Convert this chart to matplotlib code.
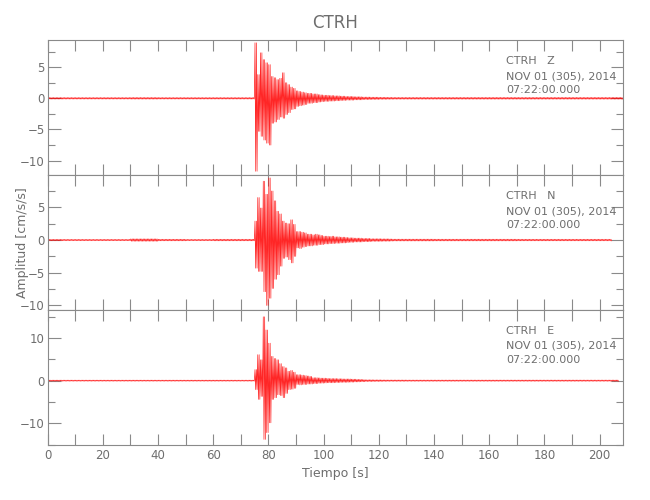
import numpy as np
from matplotlib import pyplot as plt
from matplotlib.ticker import MultipleLocator

# peak amplitudes [cm/s/s] per 1 s bin, starting at t = 75 s
EVENT_START = 75

z_upper = [8.9, 3.8, 7.3, 6.2, 5.7, 5.4, 3.5, 3.3, 3.0, 3.2,
           4.1, 2.5, 2.2, 1.8, 1.6, 1.2, 1.1, 1.0, 0.9, 0.8,
           0.8, 0.7, 0.7, 0.6, 0.55, 0.5, 0.5, 0.45, 0.45, 0.4,
           0.4, 0.35, 0.35, 0.3, 0.3, 0.3, 0.25, 0.25, 0.25, 0.2,
           0.2, 0.2, 0.18, 0.18, 0.18, 0.16, 0.16, 0.16, 0.15, 0.15]
z_lower = [-11.7, -5.3, -6.1, -6.7, -7.2, -7.5, -4.0, -3.8, -3.4, -3.0,
           -3.2, -2.6, -2.3, -1.8, -1.7, -1.3, -1.2, -1.1, -1.0, -0.8,
           -0.8, -0.7, -0.7, -0.6, -0.55, -0.5, -0.5, -0.45, -0.45, -0.4,
           -0.4, -0.35, -0.35, -0.3, -0.3, -0.3, -0.25, -0.25, -0.25, -0.2,
           -0.2, -0.2, -0.18, -0.18, -0.18, -0.16, -0.16, -0.16, -0.15, -0.15]

n_upper = [2.9, 6.5, 4.9, 9.0, 7.0, 9.5, 7.5, 6.0, 4.4, 4.0,
           2.9, 2.6, 2.5, 3.1, 2.4, 1.3, 1.3, 1.2, 1.1, 0.9,
           0.9, 0.8, 0.9, 0.8, 0.7, 0.6, 0.6, 0.55, 0.6, 0.5,
           0.5, 0.45, 0.45, 0.4, 0.35, 0.35, 0.3, 0.3, 0.3, 0.25,
           0.25, 0.25, 0.2, 0.2, 0.2, 0.2, 0.18, 0.18, 0.18, 0.16]
n_lower = [-4.3, -4.8, -4.8, -7.9, -10.0, -8.9, -7.4, -6.0, -5.3, -4.0,
           -2.8, -2.6, -3.0, -3.5, -2.5, -1.2, -1.3, -1.1, -1.0, -0.9,
           -0.9, -0.8, -0.8, -0.7, -0.7, -0.6, -0.6, -0.55, -0.55, -0.5,
           -0.5, -0.45, -0.45, -0.4, -0.35, -0.35, -0.3, -0.3, -0.3, -0.25,
           -0.25, -0.25, -0.2, -0.2, -0.2, -0.2, -0.18, -0.18, -0.18, -0.16]

e_upper = [2.6, 6.1, 4.9, 15.0, 11.9, 8.8, 5.7, 5.2, 4.9, 4.0,
           3.3, 3.0, 2.2, 2.4, 2.0, 1.4, 1.4, 1.3, 1.2, 1.1,
           1.0, 0.7, 0.7, 0.65, 0.6, 0.6, 0.55, 0.5, 0.5, 0.5,
           0.45, 0.45, 0.4, 0.4, 0.4, 0.35, 0.35, 0.3, 0.3, 0.25,
           0.2, 0.2, 0.2, 0.18, 0.18, 0.18, 0.16, 0.16, 0.15, 0.15]
e_lower = [-2.1, -4.4, -3.7, -13.8, -12.2, -9.9, -4.4, -4.0, -3.3, -3.5,
           -4.0, -3.0, -2.1, -2.0, -1.8, -0.9, -1.0, -0.9, -0.9, -0.8,
           -0.8, -0.7, -0.7, -0.6, -0.6, -0.55, -0.5, -0.5, -0.5, -0.45,
           -0.45, -0.4, -0.4, -0.4, -0.35, -0.35, -0.3, -0.3, -0.25, -0.25,
           -0.2, -0.2, -0.2, -0.18, -0.18, -0.18, -0.16, -0.16, -0.15, -0.15]

# background noise level per 10 s bin (0-10 s, 10-20 s, ...)
z_noise = [0.12, 0.12, 0.12, 0.13, 0.12, 0.12, 0.12, 0.12, 0.15, 0.15, 0.15,
           0.14, 0.14, 0.14, 0.14, 0.14, 0.14, 0.14, 0.14, 0.14, 0.14]
n_noise = [0.1, 0.1, 0.1, 0.18, 0.12, 0.1, 0.12, 0.12, 0.15, 0.15, 0.15,
           0.14, 0.14, 0.14, 0.13, 0.13, 0.13, 0.12, 0.12, 0.12, 0.12]
e_noise = [0.12, 0.12, 0.12, 0.12, 0.12, 0.12, 0.12, 0.12, 0.15, 0.15, 0.15,
           0.15, 0.15, 0.14, 0.14, 0.14, 0.14, 0.14, 0.14, 0.14, 0.14]

record_end = {"Z": 208.6, "N": 204.5, "E": 207.0}
ylims = {"Z": (-12.3, 9.35), "N": (-10.7, 9.95), "E": (-15.0, 16.6)}
ysteps = {"Z": (5, 2.5), "N": (5, 2.5), "E": (10, 5)}

station = "CTRH"
date_line = "NOV 01 (305), 2014"
time_line = "07:22:00.000"

GRAY = "#8a8a8a"
TXT = "#6e6e6e"
SWINGS = 2  # oscillations drawn inside each 1 s bin


def build_trace(t_end, noise, upper, lower):
    # zig-zag between the positive and negative peak of each second
    t, v = [], []
    step = 1.0 / (2 * SWINGS)
    for s in range(int(np.ceil(t_end))):
        k = s - EVENT_START
        if 0 <= k < len(upper):
            hi, lo = upper[k], lower[k]
        else:
            hi = noise[min(s // 10, len(noise) - 1)]
            lo = -hi
        for j in range(2 * SWINGS):
            tt = s + (j + 0.5) * step
            if tt <= t_end:
                t.append(tt)
                v.append(hi if j % 2 == 0 else lo)
    return np.array(t), np.array(v)


channels = [("Z", z_noise, z_upper, z_lower),
            ("N", n_noise, n_upper, n_lower),
            ("E", e_noise, e_upper, e_lower)]

fig = plt.figure(figsize=(6.5, 5.0), dpi=100)
left, width = 0.0734, 0.8855
bottoms = [0.65, 0.38, 0.111]
heights = [0.27, 0.27, 0.269]

axes = []
for i, (comp, noise, up, lo) in enumerate(channels):
    ax = fig.add_axes([left, bottoms[i], width, heights[i]])
    axes.append(ax)
    t, v = build_trace(record_end[comp], noise, up, lo)
    ax.plot(t, v, color="#ff0000", lw=0.5, alpha=0.85)

    ax.set_xlim(0, 208.6)
    ax.set_ylim(*ylims[comp])
    ax.xaxis.set_major_locator(MultipleLocator(20))
    ax.xaxis.set_minor_locator(MultipleLocator(10))
    ax.yaxis.set_major_locator(MultipleLocator(ysteps[comp][0]))
    ax.yaxis.set_minor_locator(MultipleLocator(ysteps[comp][1]))

    for sp in ax.spines.values():
        sp.set_color(GRAY)
        sp.set_linewidth(0.8)
    ax.tick_params(which="both", direction="in", colors=GRAY, labelcolor=TXT,
                   top=True, right=True, width=0.8, labelsize=8.5)
    ax.tick_params(axis="x", which="both", length=8, pad=3)
    ax.tick_params(axis="y", which="major", length=9, pad=2)
    ax.tick_params(axis="y", which="minor", length=5)
    if i < 2:
        ax.tick_params(axis="x", labelbottom=False)

    ax.text(0.796, 0.845, f"{station}   {comp}", transform=ax.transAxes,
            fontsize=8, color=TXT, va="center")
    ax.text(0.796, 0.733, date_line, transform=ax.transAxes,
            fontsize=8, color=TXT, va="center")
    ax.text(0.796, 0.63, time_line, transform=ax.transAxes,
            fontsize=8, color=TXT, va="center")

axes[2].set_xlabel("Tiempo [s]", color=TXT, fontsize=9, labelpad=4)
fig.text(0.035, bottoms[1] + heights[1] / 2, "Amplitud [cm/s/s]", rotation=90,
         ha="center", va="center", fontsize=9, color=TXT)
fig.text(0.516, 0.953, station, ha="center", va="center", fontsize=12, color=TXT)

fig.savefig("out.png", dpi=100)
